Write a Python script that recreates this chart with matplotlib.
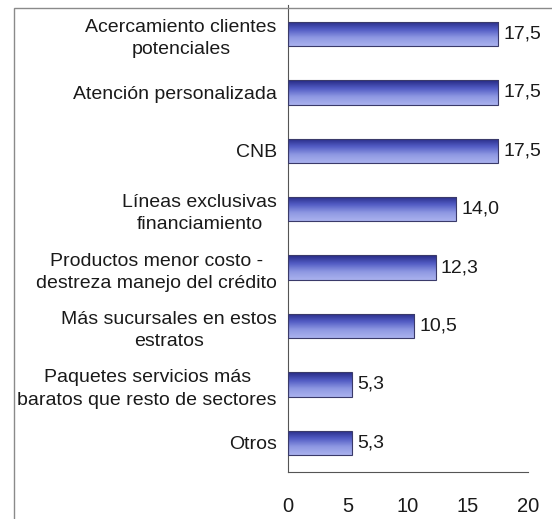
import numpy as np
import matplotlib.pyplot as plt
from matplotlib.colors import LinearSegmentedColormap
from matplotlib.patches import Rectangle

categories = [
    "Acercamiento clientes\npotenciales",
    "Atención personalizada",
    "CNB",
    "Líneas exclusivas\nfinanciamiento",
    "Productos menor costo -\ndestreza manejo del crédito",
    "Más sucursales en estos\nestratos",
    "Paquetes servicios más\nbaratos que resto de sectores",
    "Otros",
]
values = [17.5, 17.5, 17.5, 14.0, 12.3, 10.5, 5.3, 5.3]
xticks = [0, 5, 10, 15, 20]

plt.rcParams['font.family'] = ['Liberation Sans', 'DejaVu Sans']

fig = plt.figure(figsize=(5.52, 5.19), dpi=100)
ax = fig.add_axes([0.5217, 0.0906, 0.4348, 0.9])

# outer chart frame
fig.patches.append(Rectangle((14 / 552, -0.1), 1.2, 1 - 8 / 519 + 0.1,
                             transform=fig.transFigure, fill=False,
                             edgecolor='#8a8a8a', linewidth=1.0))

grad = LinearSegmentedColormap.from_list('bar', ['#262a84', '#525cc4', '#8e98e2', '#aab2ee'])
shade = np.linspace(0, 1, 64).reshape(-1, 1)

y = np.arange(len(categories))
bars = ax.barh(y, values, height=0.42, color='none', edgecolor='#3a3a6a', linewidth=0.8, zorder=3)
for bar in bars:
    x0, y0 = bar.get_x(), bar.get_y()
    w, h = bar.get_width(), bar.get_height()
    im = ax.imshow(shade, cmap=grad, aspect='auto', extent=(x0, x0 + w, y0 + h, y0),
                   zorder=2, interpolation='bicubic')
    im.set_clip_path(bar)

for yi, v in zip(y, values):
    ax.text(v + 0.45, yi, f"{v:.1f}".replace('.', ','), va='center', ha='left',
            fontsize=14, color='#1a1a1a')

ax.set_xlim(0, 20)
ax.set_ylim(len(categories) - 0.5, -0.5)
ax.set_xticks(xticks)
ax.set_xticklabels([str(t) for t in xticks], fontsize=14.5, color='#1a1a1a')
ax.set_yticks(y)
ax.set_yticklabels(categories, fontsize=14, color='#1a1a1a', multialignment='center',
                   linespacing=1.4)
ax.tick_params(axis='x', length=0, pad=18)
ax.tick_params(axis='y', length=0, pad=8)

for s in ['top', 'right']:
    ax.spines[s].set_visible(False)
ax.spines['left'].set_color('#555555')
ax.spines['bottom'].set_color('#555555')

fig.savefig('out.png', dpi=100)
